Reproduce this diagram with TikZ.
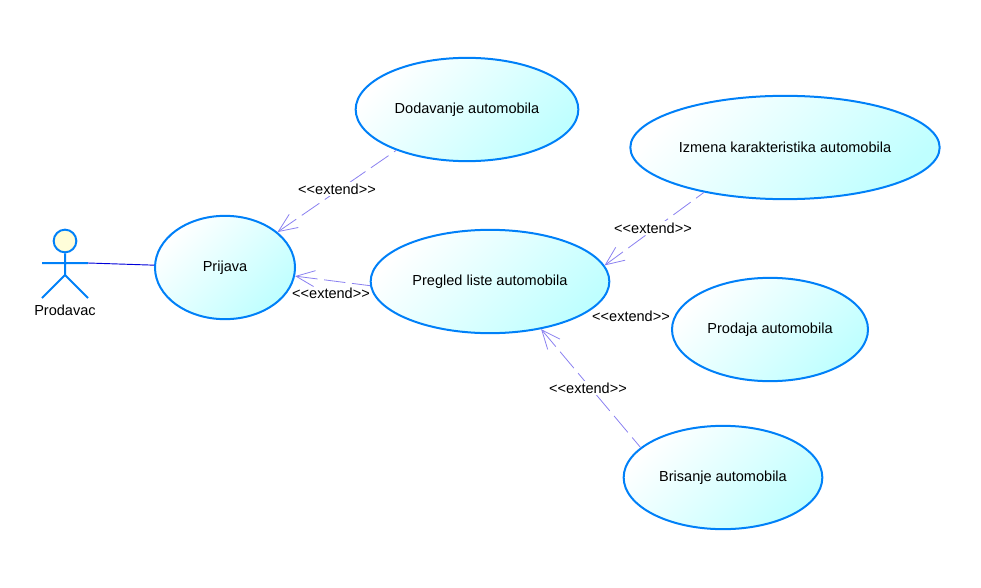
\documentclass[tikz,border=0pt]{standalone}
\usepackage{fontspec}
\setmainfont[Ligatures=TeXOff]{Liberation Sans}
\usetikzlibrary{shapes.geometric,arrows.meta}
\definecolor{umlblue}{HTML}{0080F8}
\definecolor{umlcyan}{HTML}{BFFFFF}
\definecolor{umlext}{HTML}{8A80F0}
\tikzset{
  usecase/.style={ellipse,draw=umlblue,line width=1.5pt,top color=white,bottom color=umlcyan,shading angle=45,inner sep=0pt,font=\fontsize{10.9pt}{13pt}\selectfont},
  actorline/.style={draw=umlblue,line width=1.5pt},
  extends/.style={draw=umlext,line width=.6pt,dash pattern=on 16pt off 5pt,{Straight Barb[length=14pt,width=12pt,line width=.6pt]}-},
  extlabel/.style={font=\fontsize{10.9pt}{13pt}\selectfont,inner sep=1pt},
}
\begin{document}
\begin{tikzpicture}[x=0.75pt,y=-0.75pt]
  \useasboundingbox (0,0) rectangle (981,588);
  \node[usecase,minimum width=105pt,minimum height=77.5pt] (prijava) at (225,267.5) {Prijava};
  \node[usecase,minimum width=179pt,minimum height=77.5pt] (pregled) at (490,281.5) {Pregled liste automobila};
  \node[usecase,minimum width=167pt,minimum height=77.5pt] (dodavanje) at (467,109.5) {Dodavanje automobila};
  \node[usecase,minimum width=232pt,minimum height=77.5pt] (izmena) at (785,147.5) {Izmena karakteristika automobila};
  \node[usecase,minimum width=147pt,minimum height=77.5pt] (prodaja) at (770,329.5) {Prodaja automobila};
  \node[usecase,minimum width=149pt,minimum height=77.5pt] (brisanje) at (723,477.5) {Brisanje automobila};

  % actor
  \node[circle,draw=umlblue,line width=1.5pt,fill=yellow!15,minimum size=17pt,inner sep=0pt] (head) at (65,241) {};
  \coordinate (hip) at (65,275);
  \coordinate (armL) at (42,263);
  \coordinate (armR) at (88,263);
  \coordinate (footL) at (42,298);
  \coordinate (footR) at (88,298);
  \draw[actorline] (head) -- (hip) (armL) -- (armR) (footL) -- (hip) -- (footR);
  \node[extlabel] (prodavac) at (65,310) {Prodavac};

  \draw[draw=blue!85!black,line width=.7pt] (armR) -- (prijava);

  \path[extends] (prijava.34) -- (dodavanje.210);
  \path[extends] (prijava.-7) -- (pregled.182);
  \path[extends] (pregled.8) -- (izmena.209);
  \path[extends] (pregled.-43) -- (brisanje.160);

  \node[extlabel,fill=white] (lab_dodavanje) at (337,189) {<<extend>>};
  \node[extlabel] (lab_pregled) at (331,293) {<<extend>>};
  \node[extlabel,fill=white] (lab_izmena) at (653,228) {<<extend>>};
  \node[extlabel] (lab_prodaja) at (631,316) {<<extend>>};
  \node[extlabel,fill=white] (lab_brisanje) at (588,388) {<<extend>>};
\end{tikzpicture}
\end{document}
